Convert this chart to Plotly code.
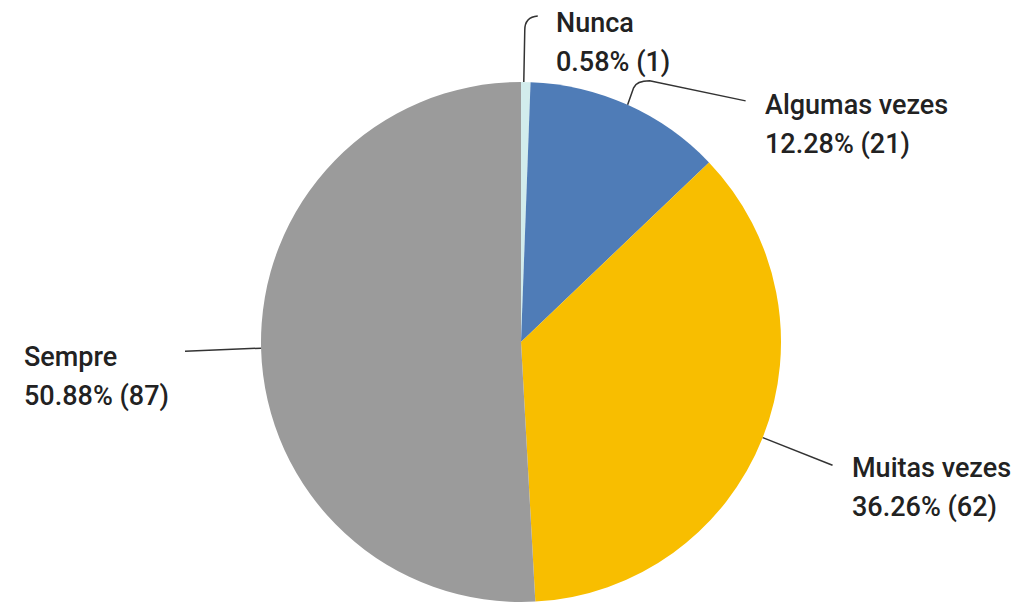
import math
import plotly.graph_objects as go

# ---- data ----
categories = ["Nunca", "Algumas vezes", "Muitas vezes", "Sempre"]
counts = [1, 21, 62, 87]
percent_labels = ["0.58%", "12.28%", "36.26%", "50.88%"]
colors = ["#d2ecec", "#4f7cb7", "#f8be00", "#9b9b9b"]

# ---- layout (pixel geometry, screenshot coordinates) ----
W, H = 1020, 602
OFF = 8  # page body margin
CX, CY, R = 521, 342, 260
label_pos = {
    "Nunca": (554, 23),
    "Algumas vezes": (763, 105),
    "Muitas vezes": (850, 468),
    "Sempre": (22, 357),
}
LINE_GAP = 39
FONT = dict(family="Roboto", size=27, color="#222222", weight=500)
LINE_COLOR = "#333333"

fig = go.Figure()
fig.add_trace(go.Pie(
    labels=categories, values=counts, sort=False, direction="clockwise",
    rotation=0, marker=dict(colors=colors, line=dict(width=0)),
    textinfo="none", hoverinfo="label+value+percent", showlegend=False,
    domain=dict(x=[(CX - OFF - R) / W, (CX - OFF + R) / W],
                y=[max(0, 1 - (CY - OFF + R) / H), 1 - (CY - OFF - R) / H]),
))

total = sum(counts)
mids = {}
acc = 0
for c, v in zip(categories, counts):
    mids[c] = (acc + v / 2) / total * 2 * math.pi
    acc += v


def edge(c, r=R):
    a = mids[c]
    return CX + r * math.sin(a), CY - r * math.cos(a)


shapes = []
x0, y0 = edge("Nunca")
x0 -= 2
shapes.append(dict(type="path", xref="x", yref="y",
                   path=f"M{x0},{y0} L{x0+1},{y0-52} Q{x0+1},{y0-65} {x0+14},{y0-66}",
                   line=dict(color=LINE_COLOR, width=1.5)))
x0, y0 = edge("Algumas vezes")
shapes.append(dict(type="path", xref="x", yref="y",
                   path=f"M{x0},{y0} L{x0+6},{y0-17} Q{x0+9},{y0-24} {x0+22},{y0-24} L{x0+118},{y0-4}",
                   line=dict(color=LINE_COLOR, width=1.5)))
x0, y0 = edge("Muitas vezes")
x1, y1 = edge("Muitas vezes", R + 75)
shapes.append(dict(type="line", xref="x", yref="y", x0=x0, y0=y0, x1=x1, y1=y1,
                   line=dict(color=LINE_COLOR, width=1.5)))
x0, y0 = edge("Sempre")
shapes.append(dict(type="line", xref="x", yref="y", x0=x0, y0=y0 - 1, x1=185, y1=y0 + 2,
                   line=dict(color=LINE_COLOR, width=1.5)))

annotations = []
for c, n, p in zip(categories, counts, percent_labels):
    lx, ly = label_pos[c]
    annotations.append(dict(x=lx, y=ly, xref="x", yref="y", text=c, showarrow=False,
                            xanchor="left", yanchor="middle", font=FONT))
    annotations.append(dict(x=lx, y=ly + LINE_GAP, xref="x", yref="y", text=f"{p} ({n})",
                            showarrow=False, xanchor="left", yanchor="middle", font=FONT))

fig.update_layout(
    width=W, height=H, margin=dict(l=0, r=0, t=0, b=0),
    paper_bgcolor="white", plot_bgcolor="rgba(0,0,0,0)",
    xaxis=dict(range=[OFF, W + OFF], visible=False, fixedrange=True),
    yaxis=dict(range=[H + OFF, OFF], visible=False, fixedrange=True),
    shapes=shapes, annotations=annotations,
)
fig.write_html("out.html")
